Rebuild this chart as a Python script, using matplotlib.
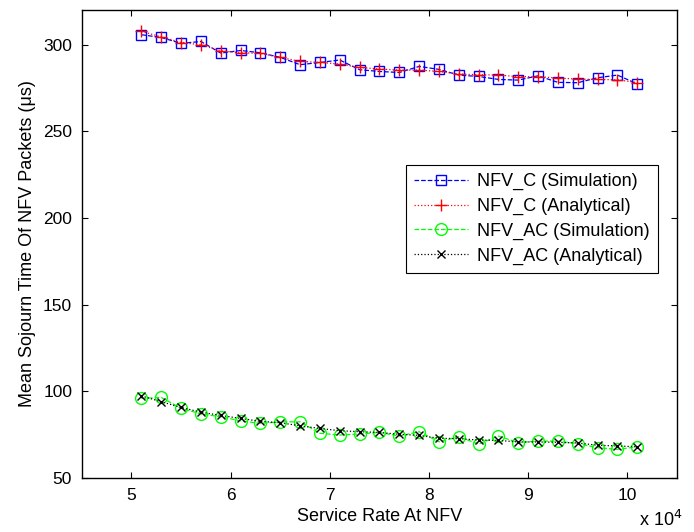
import numpy as np
import matplotlib
matplotlib.use('Agg')
import matplotlib.pyplot as plt
from matplotlib.ticker import FuncFormatter

plt.rcParams['font.family'] = ['Liberation Sans', 'DejaVu Sans']

# service rate (packets/s)
rate = np.arange(51000, 101001, 2000)

nfv_c_sim = [305.8, 304.2, 300.8, 301.9, 295.2, 296.7, 295.4, 292.7, 288.5, 289.8,
             291.2, 285.6, 284.6, 284.0, 287.5, 285.8, 282.5, 281.7, 280.0, 279.6,
             282.1, 278.3, 278.1, 281.0, 282.5, 277.4]
nfv_c_ana = [307.7, 304.6, 301.3, 300.0, 296.5, 295.4, 295.0, 292.7, 290.4, 289.8,
             288.9, 286.9, 286.0, 285.4, 285.4, 284.6, 283.1, 282.7, 282.5, 281.6,
             281.6, 280.8, 280.2, 280.0, 279.8, 278.1]
nfv_ac_sim = [95.9, 96.5, 90.2, 87.0, 85.3, 83.0, 81.5, 82.4, 82.4, 75.8,
              74.8, 75.4, 76.3, 74.2, 76.7, 70.9, 73.8, 69.6, 74.2, 70.4,
              71.3, 71.3, 69.8, 67.5, 66.5, 68.0]
nfv_ac_ana = [97.4, 94.0, 90.7, 88.0, 86.1, 84.4, 82.7, 81.9, 80.1, 78.6,
              77.3, 76.7, 76.3, 75.2, 74.6, 72.9, 72.7, 71.9, 71.7, 70.8,
              70.8, 70.6, 70.2, 68.9, 68.5, 68.0]

fig = plt.figure(figsize=(6.94, 5.32), dpi=100)
ax = fig.add_axes([0.118, 0.1015, 0.8575, 0.8795])

ax.plot(rate, nfv_c_sim, '--s', color='blue', mfc='none', ms=7.5, lw=0.9, mew=1.0,
        label='NFV_C (Simulation)')
ax.plot(rate, nfv_c_ana, ':+', color='red', ms=9, lw=0.9, mew=1.0,
        label='NFV_C (Analytical)')
ax.plot(rate, nfv_ac_sim, '--o', color='#00ff00', mfc='none', ms=8.5, lw=0.9, mew=1.0,
        label='NFV_AC (Simulation)')
ax.plot(rate, nfv_ac_ana, ':x', color='black', ms=6, lw=0.9, mew=1.0,
        label='NFV_AC (Analytical)')

ax.set_xlim(45000, 105000)
ax.set_ylim(50, 320)
ax.set_xticks(np.arange(50000, 100001, 10000))
ax.set_yticks(np.arange(50, 301, 50))
ax.xaxis.set_major_formatter(FuncFormatter(lambda v, p: '%d' % round(v / 1e4)))
ax.tick_params(direction='in', top=True, right=True, labelsize=12.5, length=4, pad=7)
for s in ax.spines.values():
    s.set_linewidth(1.0)

ax.set_xlabel('Service Rate At NFV', fontsize=13, labelpad=4)
ax.set_ylabel('Mean Sojourn Time Of NFV Packets (\u03bcs)', fontsize=13, labelpad=5)
ax.text(1.01, -0.068, 'x 10$^4$', transform=ax.transAxes, ha='right', va='top', fontsize=13)

leg = ax.legend(loc='upper right', bbox_to_anchor=(0.968, 0.669), fontsize=13,
                fancybox=False, edgecolor='black', framealpha=1, handlelength=3.0,
                borderpad=0.45, labelspacing=0.42, handletextpad=0.5, borderaxespad=0)
leg.get_frame().set_linewidth(0.8)

fig.savefig('out.png', dpi=100)
